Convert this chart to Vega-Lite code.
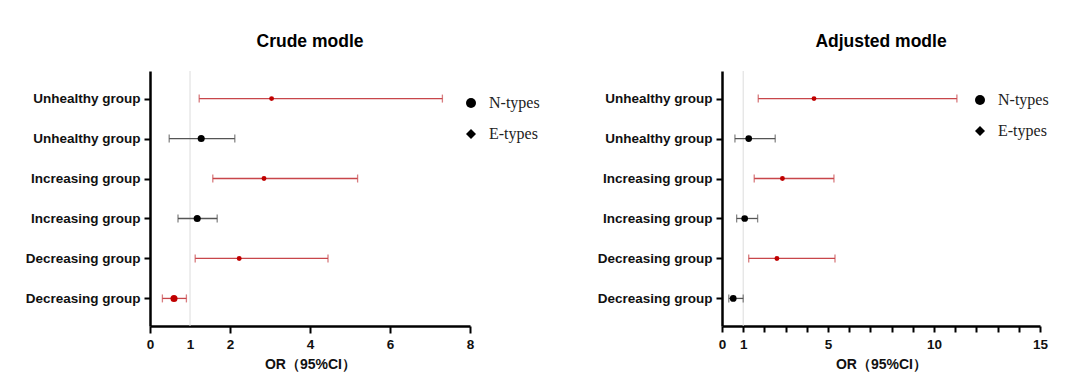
{
  "$schema": "https://vega.github.io/schema/vega-lite/v6.json",
  "background": "white",
  "padding": {"left": 25, "top": 33, "right": 5, "bottom": 5},
  "bounds": "flush",
  "spacing": 252,
  "config": {
    "view": {"stroke": null},
    "font": "Liberation Sans",
    "axis": {
      "domainColor": "black", "domainWidth": 2.5, "tickColor": "black", "tickWidth": 2,
      "labelFont": "Liberation Sans", "labelFontWeight": "bold", "labelColor": "#111", "labelFontSize": 13.5,
      "labelFlush": false, "labelOverlap": false,
      "grid": false, "titleFont": "Liberation Sans", "titleFontWeight": "bold", "titleFontSize": 14, "titleColor": "#111"
    },
    "title": {"font": "Liberation Sans", "fontSize": 17.5, "fontWeight": "bold", "anchor": "middle", "offset": 20, "color": "#000"},
    "legend": {
      "orient": "none", "labelFont": "Liberation Serif", "labelFontSize": 16, "labelColor": "#222",
      "symbolSize": 100, "symbolFillColor": "black", "symbolStrokeColor": "black", "symbolOpacity": 1,
      "rowPadding": 15, "padding": 0, "labelOffset": 10
    }
  },
  "datasets": {
    "crude": [
      {"key": "Unhealthy group|E", "type": "E-types", "or": 3.04, "lo": 1.23, "hi": 7.31},
      {"key": "Unhealthy group|N", "type": "N-types", "or": 1.28, "lo": 0.48, "hi": 2.12},
      {"key": "Increasing group|E", "type": "E-types", "or": 2.85, "lo": 1.57, "hi": 5.19},
      {"key": "Increasing group|N", "type": "N-types", "or": 1.18, "lo": 0.70, "hi": 1.68},
      {"key": "Decreasing group|E", "type": "E-types", "or": 2.23, "lo": 1.13, "hi": 4.45},
      {"key": "Decreasing group|N", "type": "N-types", "or": 0.60, "lo": 0.31, "hi": 0.91}
    ],
    "adjusted": [
      {"key": "Unhealthy group|E", "type": "E-types", "or": 4.34, "lo": 1.71, "hi": 11.08},
      {"key": "Unhealthy group|N", "type": "N-types", "or": 1.26, "lo": 0.61, "hi": 2.51},
      {"key": "Increasing group|E", "type": "E-types", "or": 2.85, "lo": 1.52, "hi": 5.28},
      {"key": "Increasing group|N", "type": "N-types", "or": 1.07, "lo": 0.69, "hi": 1.68},
      {"key": "Decreasing group|E", "type": "E-types", "or": 2.59, "lo": 1.26, "hi": 5.33},
      {"key": "Decreasing group|N", "type": "N-types", "or": 0.53, "lo": 0.32, "hi": 1.00}
    ],
    "ref": [{"ref": 1}]
  },
  "hconcat": [
    {
      "title": "Crude modle",
      "width": 320, "height": 255,
      "layer": [
        {
          "data": {"name": "ref"},
          "mark": {"type": "rule", "color": "#dcdcdc", "strokeWidth": 1},
          "encoding": {"x": {"field": "ref", "type": "quantitative", "scale": {"domain": [0, 8], "nice": false},
              "axis": {"title": "OR（95%CI）", "values": [0, 1, 2, 4, 6, 8], "tickSize": 7, "labelPadding": 4, "titlePadding": 7,
                "tickOpacity": {"condition": {"test": "datum.value === 1", "value": 0}, "value": 1}}}}
        },
        {
          "data": {"name": "crude"},
          "mark": {"type": "rule", "strokeWidth": 1.3},
          "encoding": {
            "x": {"field": "lo", "type": "quantitative", "title": "OR（95%CI）"},
            "x2": {"field": "hi"},
            "y": {"field": "key", "type": "nominal", "scale": {"type": "point", "padding": 0.69, "domain": ["Unhealthy group|E", "Unhealthy group|N", "Increasing group|E", "Increasing group|N", "Decreasing group|E", "Decreasing group|N"]},
              "axis": {"title": null, "labelExpr": "split(datum.label, '|')[0]", "tickSize": 6, "labelPadding": 4}},
            "color": {"condition": {"test": "datum.type === 'E-types' || datum.key === 'Decreasing group|N'", "value": "#c8464a"}, "value": "#555555"}
          }
        },
        {
          "data": {"name": "crude"},
          "mark": {"type": "tick", "orient": "vertical", "size": 8, "thickness": 1.3},
          "encoding": {
            "x": {"field": "lo", "type": "quantitative", "title": "OR（95%CI）"},
            "y": {"field": "key", "type": "nominal"},
            "color": {"condition": {"test": "datum.type === 'E-types' || datum.key === 'Decreasing group|N'", "value": "#c8464a"}, "value": "#555555"}
          }
        },
        {
          "data": {"name": "crude"},
          "mark": {"type": "tick", "orient": "vertical", "size": 8, "thickness": 1.3},
          "encoding": {
            "x": {"field": "hi", "type": "quantitative", "title": "OR（95%CI）"},
            "y": {"field": "key", "type": "nominal"},
            "color": {"condition": {"test": "datum.type === 'E-types' || datum.key === 'Decreasing group|N'", "value": "#c8464a"}, "value": "#555555"}
          }
        },
        {
          "data": {"name": "crude"},
          "mark": {"type": "point", "filled": true, "opacity": 1},
          "encoding": {
            "x": {"field": "or", "type": "quantitative", "title": "OR（95%CI）"},
            "y": {"field": "key", "type": "nominal"},
            "color": {"condition": {"test": "datum.type === 'E-types' || datum.key === 'Decreasing group|N'", "value": "#c00000"}, "value": "#000000"},
            "size": {"condition": {"test": "datum.type === 'N-types'", "value": 50}, "value": 24}
          }
        },
        {
          "data": {"name": "crude"},
          "mark": {"type": "point", "filled": true, "opacity": 0, "color": "black"},
          "encoding": {
            "x": {"field": "or", "type": "quantitative", "title": "OR（95%CI）"},
            "y": {"field": "key", "type": "nominal"},
            "shape": {"field": "type", "type": "nominal", "scale": {"domain": ["N-types", "E-types"], "range": ["circle", "diamond"]},
              "legend": {"title": null, "orient": "none", "legendX": 313, "legendY": 24}}
          }
        }
      ]
    },
    {
      "title": "Adjusted modle",
      "width": 318, "height": 255,
      "layer": [
        {
          "data": {"name": "ref"},
          "mark": {"type": "rule", "color": "#dcdcdc", "strokeWidth": 1},
          "encoding": {"x": {"field": "ref", "type": "quantitative", "scale": {"domain": [0, 15], "nice": false},
              "axis": {"title": "OR（95%CI）", "tickCount": 15, "tickSize": 6, "labelPadding": 5, "titlePadding": 7,
                "labelExpr": "(datum.value === 0 || datum.value === 1 || datum.value % 5 === 0) ? datum.label : ''"}}}
        },
        {
          "data": {"name": "adjusted"},
          "mark": {"type": "rule", "strokeWidth": 1.3},
          "encoding": {
            "x": {"field": "lo", "type": "quantitative", "title": "OR（95%CI）"},
            "x2": {"field": "hi"},
            "y": {"field": "key", "type": "nominal", "scale": {"type": "point", "padding": 0.69, "domain": ["Unhealthy group|E", "Unhealthy group|N", "Increasing group|E", "Increasing group|N", "Decreasing group|E", "Decreasing group|N"]},
              "axis": {"title": null, "labelExpr": "split(datum.label, '|')[0]", "tickSize": 6, "labelPadding": 4}},
            "color": {"condition": {"test": "datum.type === 'E-types'", "value": "#c8464a"}, "value": "#555555"}
          }
        },
        {
          "data": {"name": "adjusted"},
          "mark": {"type": "tick", "orient": "vertical", "size": 8, "thickness": 1.3},
          "encoding": {
            "x": {"field": "lo", "type": "quantitative", "title": "OR（95%CI）"},
            "y": {"field": "key", "type": "nominal"},
            "color": {"condition": {"test": "datum.type === 'E-types'", "value": "#c8464a"}, "value": "#555555"}
          }
        },
        {
          "data": {"name": "adjusted"},
          "mark": {"type": "tick", "orient": "vertical", "size": 8, "thickness": 1.3},
          "encoding": {
            "x": {"field": "hi", "type": "quantitative", "title": "OR（95%CI）"},
            "y": {"field": "key", "type": "nominal"},
            "color": {"condition": {"test": "datum.type === 'E-types'", "value": "#c8464a"}, "value": "#555555"}
          }
        },
        {
          "data": {"name": "adjusted"},
          "mark": {"type": "point", "filled": true, "opacity": 1},
          "encoding": {
            "x": {"field": "or", "type": "quantitative", "title": "OR（95%CI）"},
            "y": {"field": "key", "type": "nominal"},
            "color": {"condition": {"test": "datum.type === 'E-types'", "value": "#c00000"}, "value": "#000000"},
            "size": {"condition": {"test": "datum.type === 'N-types'", "value": 45}, "value": 24}
          }
        },
        {
          "data": {"name": "adjusted"},
          "mark": {"type": "point", "filled": true, "opacity": 0, "color": "black"},
          "encoding": {
            "x": {"field": "or", "type": "quantitative", "title": "OR（95%CI）"},
            "y": {"field": "key", "type": "nominal"},
            "shape": {"field": "type", "type": "nominal", "scale": {"domain": ["N-types", "E-types"], "range": ["circle", "diamond"]},
              "legend": {"title": null, "orient": "none", "legendX": 250, "legendY": 21}}
          }
        }
      ]
    }
  ],
  "resolve": {"scale": {"shape": "independent", "x": "independent"}, "legend": {"shape": "independent"}}
}
